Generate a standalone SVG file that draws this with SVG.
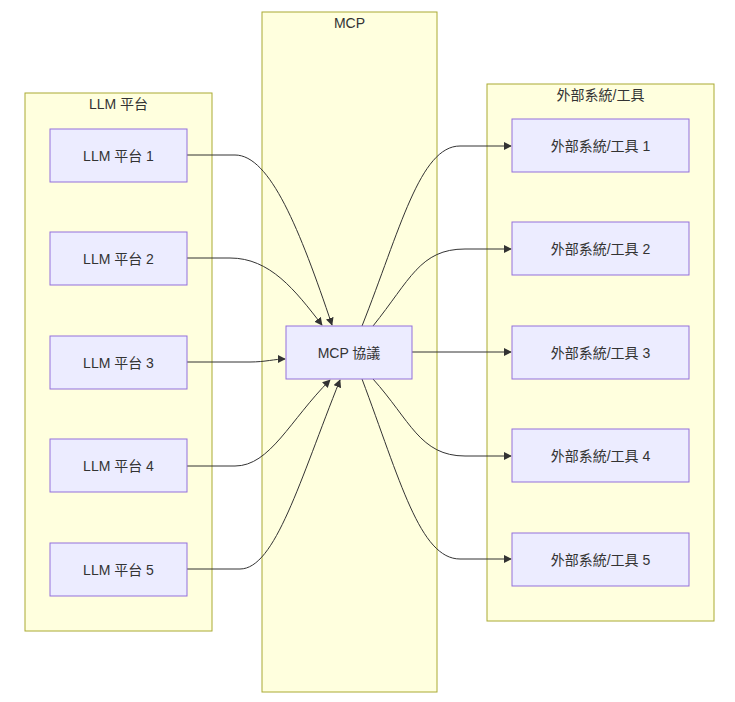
<svg xmlns="http://www.w3.org/2000/svg" width="735" height="702" viewBox="0 0 735 702">
<style>
.cl{fill:#ffffde;stroke:#aaaa33;stroke-width:1}
.nd{fill:#ececff;stroke:#9370db;stroke-width:1}
text{font-family:"Liberation Sans","Noto Sans CJK TC",sans-serif;font-size:14px;fill:#333;text-anchor:middle;dominant-baseline:central}
.e{fill:none;stroke:#333;stroke-width:1;marker-end:url(#a)}
</style>
<defs><marker id="a" viewBox="0 0 10 10" refX="9" refY="5" markerWidth="8" markerHeight="8" orient="auto"><path d="M0,0L10,5L0,10z" fill="#333"/></marker></defs>
<rect width="735" height="702" fill="#fff"/>
<g id="cluster-llm"><rect class="cl" x="25" y="93" width="187" height="538"/><text x="118.5" y="104">LLM 平台</text></g>
<g id="cluster-mcp"><rect class="cl" x="262" y="12" width="175" height="680"/><text x="349.5" y="23">MCP</text></g>
<g id="cluster-ext"><rect class="cl" x="487" y="84" width="227" height="537"/><text x="600.5" y="95">外部系統/工具</text></g>
<g id="edges">
<path class="e" d="M187,155 L235,155 C270,155 300,230 332,325"/>
<path class="e" d="M187,258 L230,258 C270,258 295,290 322,325"/>
<path class="e" d="M187,362 L250,362 C265,362 275,359 285,359"/>
<path class="e" d="M187,466 L235,466 C270,466 290,420 330,380"/>
<path class="e" d="M187,569 L240,569 C275,569 300,480 340,380"/>
<path class="e" d="M362,326 C400,230 420,146 460,146 L511,146"/>
<path class="e" d="M373,326 C410,280 420,249 465,249 L511,249"/>
<path class="e" d="M412,352 L511,352"/>
<path class="e" d="M373,379 C410,420 420,456 465,456 L511,456"/>
<path class="e" d="M362,379 C400,480 420,559 460,559 L511,559"/>
</g>
<g id="llm1"><rect class="nd" x="50" y="129" width="137" height="53"/><text x="118.5" y="155.5">LLM 平台 1</text></g>
<g id="llm2"><rect class="nd" x="50" y="232" width="137" height="53"/><text x="118.5" y="258.5">LLM 平台 2</text></g>
<g id="llm3"><rect class="nd" x="50" y="336" width="137" height="53"/><text x="118.5" y="362.5">LLM 平台 3</text></g>
<g id="llm4"><rect class="nd" x="50" y="439" width="137" height="53"/><text x="118.5" y="465.5">LLM 平台 4</text></g>
<g id="llm5"><rect class="nd" x="50" y="543" width="137" height="53"/><text x="118.5" y="569.5">LLM 平台 5</text></g>
<g id="mcp"><rect class="nd" x="286" y="326" width="126" height="53"/><text x="349" y="352.5">MCP 協議</text></g>
<g id="ext1"><rect class="nd" x="512" y="119" width="177" height="53"/><text x="600.5" y="145.5">外部系統/工具 1</text></g>
<g id="ext2"><rect class="nd" x="512" y="222" width="177" height="53"/><text x="600.5" y="248.5">外部系統/工具 2</text></g>
<g id="ext3"><rect class="nd" x="512" y="326" width="177" height="53"/><text x="600.5" y="352.5">外部系統/工具 3</text></g>
<g id="ext4"><rect class="nd" x="512" y="429" width="177" height="53"/><text x="600.5" y="455.5">外部系統/工具 4</text></g>
<g id="ext5"><rect class="nd" x="512" y="533" width="177" height="53"/><text x="600.5" y="559.5">外部系統/工具 5</text></g>
</svg>
